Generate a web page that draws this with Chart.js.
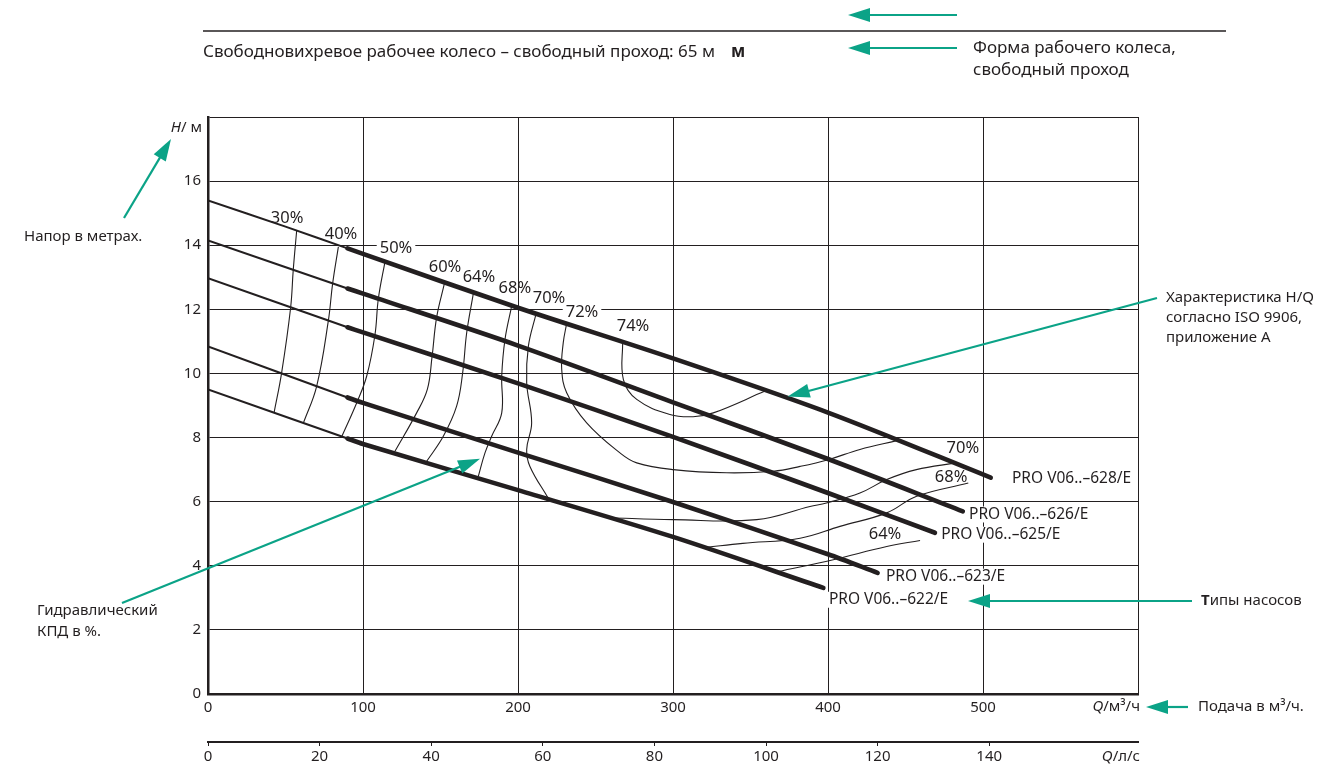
<!DOCTYPE html>
<html>
<head>
<meta charset="utf-8">
<script src="https://cdn.jsdelivr.net/npm/chart.js@4/dist/chart.umd.min.js"></script>
<style>
  html, body { margin: 0; padding: 0; background: #fff; }
  #wrap { width: 1323px; height: 769px; }
</style>
</head>
<body>
<div id="wrap"><canvas id="chart" width="1323" height="769"></canvas></div>
<script>
// pump curves H(Q): Q in m3/h, H in m
const pumpNames = ['PRO V06..–628/E', 'PRO V06..–626/E', 'PRO V06..–625/E', 'PRO V06..–623/E', 'PRO V06..–622/E'];
const q628 = [0, 50, 90, 100, 200, 300, 400, 505];
const h628 = [15.4, 14.58, 13.9, 13.73, 12.05, 10.47, 8.78, 6.75];
const q626 = [0, 90, 100, 200, 300, 400, 487];
const h626 = [14.15, 12.65, 12.49, 10.87, 9.1, 7.33, 5.7];
const q625 = [0, 90, 100, 200, 300, 400, 469];
const h625 = [12.97, 11.44, 11.28, 9.69, 8.02, 6.27, 5.03];
const q623 = [0, 90, 100, 200, 300, 400, 432];
const h623 = [10.84, 9.25, 9.08, 7.53, 5.99, 4.36, 3.78];
const q622 = [0, 90, 100, 200, 300, 397];
const h622 = [9.5, 7.97, 7.8, 6.36, 4.9, 3.31];
const thinUntil = 90; // below this Q the curves are drawn thin

// pump label anchors (left edge of text)
const pumpLabelQ = [518.7, 491, 473, 437.4, 400.6];
const pumpLabelH = [6.72, 5.6, 4.97, 3.66, 2.94];

// efficiency iso-lines
const q30 = [57.2, 55.0, 53.3, 47.5, 42.6];
const h30 = [14.45, 13.23, 12.05, 10.02, 8.77];
const q40 = [84.1, 80.4, 77.6, 70.1, 61.5];
const h40 = [13.95, 12.8, 11.63, 9.6, 8.45];
const q50 = [114.2, 109.9, 107.7, 102.4, 95.9, 86.3];
const h50 = [13.49, 12.33, 11.2, 9.92, 9.08, 8.03];
const q60 = [152.5, 147.5, 144.5, 141.5, 134.6, 120.6];
const h60 = [12.8, 11.75, 10.5, 9.5, 8.77, 7.57];
const q64 = [171.2, 166.9, 164.3, 160.4, 151.8, 141.1];
const h64 = [12.5, 11.27, 10.02, 8.98, 8.04, 7.26];
const q68 = [195.9, 191.6, 189.5, 189.5, 183, 178.7, 174.4];
const h68 = [12.1, 11.06, 9.92, 8.77, 8.04, 7.52, 6.79];
const q70 = [211.6, 206.7, 205.6, 208.8, 205.6, 207.7, 219.6];
const h70 = [11.85, 10.85, 9.71, 8.46, 7.63, 7.10, 6.1];
const q72 = [231.4, 229.2, 228.2, 231.4, 244.3, 265.8, 276.6, 300.2, 334.6, 364.7, 382, 400.2, 420.6, 444.3];
const h72 = [11.56, 10.96, 10.13, 9.4, 8.46, 7.52, 7.21, 7.0, 6.9, 6.95, 7.1, 7.31, 7.63, 7.9];
const q74 = [267.5, 268, 276.6, 298, 313, 326, 359.4];
const h74 = [11.0, 9.81, 9.19, 8.72, 8.65, 8.77, 9.45];
const q70r = [258, 300.2, 354, 388.4, 399, 420.6, 437.9, 457, 482.6];
const h70r = [5.5, 5.44, 5.44, 5.85, 5.96, 6.27, 6.69, 7.0, 7.21];
const q68r = [322, 345, 382, 407.7, 437.9, 457.2, 490.5];
const h68r = [4.58, 4.7, 4.86, 5.23, 5.65, 6.17, 6.58];
const q64r = [368, 403.4, 437.9, 459.4];
const h64r = [3.82, 4.19, 4.6, 4.79];

const effLabels = ['30%', '40%', '50%', '60%', '64%', '68%', '70%', '72%', '74%', '70%', '68%', '64%'];
const effLabelQ = [51, 85.8, 121.3, 152.9, 174.8, 198, 220, 241.3, 274.2, 487, 479.4, 436.8];
const effLabelH = [14.84, 14.34, 13.9, 13.31, 13.0, 12.66, 12.34, 11.9, 11.47, 7.66, 6.75, 4.97];

// axes
const qTicks = [0, 100, 200, 300, 400, 500, 600];
const hTicks = [0, 2, 4, 6, 8, 10, 12, 14, 16, 18];
const lsTicks = [0, 20, 40, 60, 80, 100, 120, 140];
const qMax = 600, hMax = 18;

const ink = '#231f20';
const green = '#0ba387';
const font = "'Noto Sans', sans-serif";
Chart.defaults.font.family = font;
Chart.defaults.color = ink;

function pts(qs, hs) {
  return qs.map((q, i) => ({ x: q, y: hs[i] }));
}

const datasets = [];
[[q628, h628], [q626, h626], [q625, h625], [q623, h623], [q622, h622]].forEach(([qs, hs]) => {
  const all = pts(qs, hs);
  datasets.push({ data: all.filter(p => p.x <= thinUntil), borderWidth: 2, tension: 0.2 });
  datasets.push({ data: all.filter(p => p.x >= thinUntil), borderWidth: 4.6, tension: 0.3, borderCapStyle: 'round' });
});
[[q30, h30], [q40, h40], [q50, h50], [q60, h60], [q64, h64], [q68, h68], [q70, h70],
 [q72, h72], [q74, h74], [q70r, h70r], [q68r, h68r], [q64r, h64r]].forEach(([qs, hs]) => {
  datasets.push({ data: pts(qs, hs), borderWidth: 1.1, tension: 0.4 });
});
datasets.forEach(d => {
  d.borderColor = ink;
  d.pointRadius = 0;
  d.fill = false;
});

function arrow(ctx, x1, y1, x2, y2) {
  const a = Math.atan2(y2 - y1, x2 - x1);
  const len = 22, hw = 7;
  const c = Math.cos(a), s = Math.sin(a);
  ctx.save();
  ctx.strokeStyle = green;
  ctx.fillStyle = green;
  ctx.lineWidth = 2.2;
  ctx.beginPath();
  ctx.moveTo(x1, y1);
  ctx.lineTo(x2 - c * len * 0.8, y2 - s * len * 0.8);
  ctx.stroke();
  ctx.beginPath();
  ctx.moveTo(x2, y2);
  ctx.lineTo(x2 - c * len + s * hw, y2 - s * len - c * hw);
  ctx.lineTo(x2 - c * len - s * hw, y2 - s * len + c * hw);
  ctx.closePath();
  ctx.fill();
  ctx.restore();
}

// draw a run of [text, style] parts starting at x
function runText(ctx, parts, x, y, align, size) {
  size = size || 15;
  const widths = parts.map(([t, st]) => { ctx.font = (st || '') + ' ' + size + 'px ' + font; return ctx.measureText(t).width; });
  const total = widths.reduce((a, b) => a + b, 0);
  let cx = align === 'right' ? x - total : x;
  ctx.textAlign = 'left';
  parts.forEach(([t, st], i) => {
    ctx.font = (st || '') + ' ' + size + 'px ' + font;
    ctx.fillText(t, cx, y);
    cx += widths[i];
  });
}

const annotate = {
  id: 'annotate',
  afterDatasetsDraw(chart) {
    const ctx = chart.ctx;
    const sx = chart.scales.x, sy = chart.scales.y;
    ctx.save();
    ctx.fillStyle = ink;
    ctx.textBaseline = 'middle';
    // efficiency labels
    ctx.font = '16.5px ' + font;
    effLabels.forEach((t, i) => {
      const px = sx.getPixelForValue(effLabelQ[i]);
      const py = sy.getPixelForValue(effLabelH[i]);
      const w = ctx.measureText(t).width;
      if (i === 2 || i === 7) {
        ctx.fillStyle = '#fff';
        ctx.fillRect(px - w / 2 - 3, py - 7, w + 6, 14);
        ctx.fillStyle = ink;
      }
      ctx.textAlign = 'center';
      ctx.fillText(t, px, py);
    });
    // pump names
    ctx.font = '15.5px ' + font;
    pumpNames.forEach((t, i) => {
      const px = sx.getPixelForValue(pumpLabelQ[i]);
      const py = sy.getPixelForValue(pumpLabelH[i]);
      const w = ctx.measureText(t).width;
      ctx.fillStyle = '#fff';
      ctx.fillRect(px - 2, py - 8, w + 4, 16);
      ctx.fillStyle = ink;
      ctx.textAlign = 'left';
      ctx.fillText(t, px, py);
    });
    ctx.restore();
  },
  afterDraw(chart) {
    const ctx = chart.ctx;
    const sx = chart.scales.x, sy = chart.scales.y;
    const area = chart.chartArea;
    ctx.save();
    ctx.fillStyle = ink;
    ctx.textBaseline = 'middle';

    // axis titles
    runText(ctx, [['H', 'italic'], ['/ м', '']], area.left - 6, 128, 'right');
    runText(ctx, [['Q', 'italic'], ['/м³/ч', '']], area.right + 2, 707, 'right');
    runText(ctx, [['Q', 'italic'], ['/л/с', '']], area.right + 2, 757, 'right');

    // header
    ctx.strokeStyle = ink;
    ctx.lineWidth = 1.5;
    ctx.beginPath();
    ctx.moveTo(203, 31);
    ctx.lineTo(1226, 31);
    ctx.stroke();
    ctx.font = '17px ' + font;
    ctx.textAlign = 'left';
    const head = 'Свободновихревое рабочее колесо – свободный проход: 65 м';
    ctx.fillText(head, 203, 52);
    const hw = ctx.measureText(head).width;
    ctx.font = 'bold 17px ' + font;
    ctx.fillText('м', 203 + hw + 16, 52);

    ctx.font = '17px ' + font;
    ctx.fillText('Форма рабочего колеса,', 973, 48);
    ctx.fillText('свободный проход', 973, 70);
    ctx.font = '15px ' + font;
    ctx.fillText('Напор в метрах.', 24, 237);
    ctx.fillText('Гидравлический', 37, 611);
    ctx.fillText('КПД в %.', 37, 632);
    ctx.fillText('Характеристика H/Q', 1166, 298);
    ctx.fillText('согласно ISO 9906,', 1166, 318);
    ctx.fillText('приложение А', 1166, 338);
    runText(ctx, [['Т', 'bold'], ['ипы насосов', '']], 1201, 601, 'left');
    ctx.font = '15px ' + font;
    ctx.fillText('Подача в м³/ч.', 1198, 707);

    // arrows
    arrow(ctx, 957, 15, 848, 15);
    arrow(ctx, 957, 48, 848, 48);
    arrow(ctx, 124, 218, 171, 139);
    arrow(ctx, 1157, 298, sx.getPixelForValue(374), sy.getPixelForValue(9.28));
    arrow(ctx, 122, 603, sx.getPixelForValue(175.5), sy.getPixelForValue(7.34));
    arrow(ctx, 1192, 601, 968, 601);
    arrow(ctx, 1188, 707, 1146, 707);
    ctx.restore();
  }
};

new Chart(document.getElementById('chart'), {
  type: 'line',
  data: { datasets },
  options: {
    responsive: false,
    animation: false,
    devicePixelRatio: 1,
    layout: { padding: { left: 0, top: 117, right: 185, bottom: 0 } },
    plugins: { legend: { display: false }, tooltip: { enabled: false } },
    scales: {
      x: {
        type: 'linear',
        min: 0, max: qMax,
        afterBuildTicks: s => { s.ticks = qTicks.map(v => ({ value: v })); },
        afterFit: s => { s.height = 48; },
        ticks: { padding: 5, font: { size: 15 }, color: ink, maxRotation: 0,
          callback: v => (v < qMax ? v : '') },
        grid: { color: ink, lineWidth: 1, drawTicks: false },
        border: { color: ink, width: 2.5 }
      },
      x2: {
        type: 'linear',
        position: 'bottom',
        min: 0, max: qMax / 3.6,
        afterBuildTicks: s => { s.ticks = lsTicks.map(v => ({ value: v })); },
        afterFit: s => { s.height = 27; },
        ticks: { padding: 2, font: { size: 15 }, color: ink, maxRotation: 0 },
        grid: { drawOnChartArea: false, color: ink, lineWidth: 1, tickLength: 4 },
        border: { color: ink, width: 2 }
      },
      y: {
        type: 'linear',
        min: 0, max: hMax,
        afterBuildTicks: s => { s.ticks = hTicks.map(v => ({ value: v })); },
        afterFit: s => { s.width = 208; },
        ticks: { padding: 7, font: { size: 15 }, color: ink,
          callback: v => (v < hMax ? v : '') },
        grid: { color: ink, lineWidth: 1, drawTicks: false },
        border: { color: ink, width: 2.5 }
      }
    }
  },
  plugins: [annotate]
});
</script>
</body>
</html>
